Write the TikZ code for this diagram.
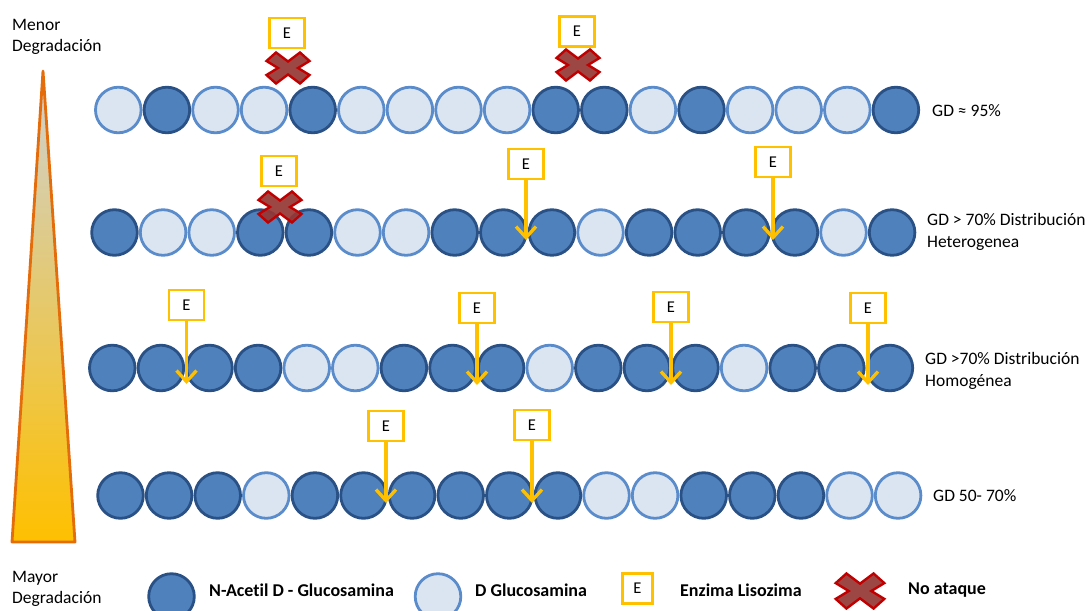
\documentclass[tikz,border=0pt]{standalone}
\usepackage{fontspec}
\setmainfont{Carlito}[Ligatures=NoCommon]
\usetikzlibrary{arrows.meta}
\definecolor{f0}{HTML}{DBE5F1}
\definecolor{d0}{HTML}{5A8BCB}
\definecolor{f1}{HTML}{4F81BD}
\definecolor{d1}{HTML}{2A5185}
\definecolor{gold}{HTML}{FFC000}
\definecolor{orng}{HTML}{E46C0A}
\definecolor{xred}{HTML}{C00000}
\definecolor{xfill}{HTML}{953735}
\definecolor{tgray}{HTML}{CDD1D4}
\definecolor{tmid}{HTML}{E4C56A}
\begin{document}
\begin{tikzpicture}[x=1pt,y=-1pt,
  bead/.style={circle,minimum size=45.6pt,inner sep=0pt,line width=2.8pt},
  ebox/.style={draw=gold,fill=white,line width=2.6pt,minimum width=35pt,minimum height=30pt,inner sep=0pt,font=\fontsize{16.5}{19}\selectfont},
  arr/.style={draw=gold,line width=3.3pt,-{Straight Barb[length=11pt,width=20pt]}},
  lbl/.style={anchor=west,align=left,inner sep=0pt,font=\fontsize{17.5}{21.5}\selectfont},
  leg/.style={anchor=west,inner sep=0pt,font=\bfseries\fontsize{18}{20}\selectfont},
  nox/.pic={\path[draw=xred,fill=xfill,fill opacity=0.92,line width=2.4pt,line join=miter]
    (-12,-15.5) -- (0,-6.5) -- (12,-15.5) -- (21.5,-7) -- (10,0) -- (21.5,7) -- (12,15.5)
    -- (0,6.5) -- (-12,15.5) -- (-21.5,7) -- (-10,0) -- (-21.5,-7) -- cycle;}
]
\useasboundingbox (0,0) rectangle (1091,610);

% degradation triangle
\path[draw=orng,line width=2.8pt,line join=round,top color=tgray,middle color=tmid,bottom color=gold]
  (43,71) -- (75,542) -- (12,542) -- cycle;
\node[lbl] (menor) at (12,37) {Menor\\Degradación};
\node[lbl] (mayor) at (12,589) {Mayor\\Degradación};

% row 1
\foreach \t [count=\i] in {0,1,0,0,1,0,0,0,0,1,1,0,1,0,0,0,1}
  \node[bead,fill=f\t,draw=d\t] (a\i) at ({118.3+(\i-1)*48.6},110) {};
% row 2
\foreach \t [count=\i] in {1,0,0,1,1,0,0,1,1,1,0,1,1,1,1,0,1}
  \node[bead,fill=f\t,draw=d\t] (b\i) at ({114.5+(\i-1)*48.6},232.5) {};
% row 3
\foreach \t [count=\i] in {1,1,1,1,0,0,1,1,1,0,1,1,1,0,1,1,1}
  \node[bead,fill=f\t,draw=d\t] (c\i) at ({112.3+(\i-1)*48.6},368) {};
% row 4
\foreach \t [count=\i] in {1,1,1,0,1,1,1,1,1,1,0,0,1,1,1,0,0}
  \node[bead,fill=f\t,draw=d\t] (d\i) at ({120.5+(\i-1)*48.6},495.5) {};

% enzymes row 1
\node[ebox] (e11) at (287,33) {E};
\node[ebox] (e12) at (577,31.5) {E};
\pic (x11) at (288,68) {nox};
\pic (x12) at (578,65) {nox};

% enzymes row 2
\node[ebox] (e21) at (279,171) {E};
\node[ebox] (e22) at (526,164) {E};
\node[ebox] (e23) at (773,162) {E};
\coordinate (t22) at (526,240);
\coordinate (t23) at (773,240);
\draw[arr] (e22.south) -- (t22);
\draw[arr] (e23.south) -- (t23);
\pic (x21) at (280,207) {nox};

% enzymes row 3
\node[ebox] (e31) at (186.5,305) {E};
\node[ebox] (e32) at (477,308) {E};
\node[ebox] (e33) at (671,307) {E};
\node[ebox] (e34) at (868,308) {E};
\coordinate (t31) at (186.5,384);
\coordinate (t32) at (477,385);
\coordinate (t33) at (671,385);
\coordinate (t34) at (868,385);
\draw[arr] (e31.south) -- (t31);
\draw[arr] (e32.south) -- (t32);
\draw[arr] (e33.south) -- (t33);
\draw[arr] (e34.south) -- (t34);

% enzymes row 4
\node[ebox] (e41) at (386,426) {E};
\node[ebox] (e42) at (532,425) {E};
\coordinate (t41) at (386,503);
\coordinate (t42) at (532,503);
\draw[arr] (e41.south) -- (t41);
\draw[arr] (e42.south) -- (t42);

% row labels
\node[lbl] (g1) at (932,111) {GD ≈ 95\%};
\node[lbl] (g2) at (927,232) {GD > 70\% Distribución\\Heterogenea};
\node[lbl] (g3) at (925,371) {GD >70\% Distribución\\Homogénea};
\node[lbl] (g4) at (933,496) {GD 50- 70\%};

% legend
\node[bead,fill=f1,draw=d1] (l1) at (171.5,596.5) {};
\node[leg] (lt1) at (209,590) {N-Acetil D - Glucosamina};
\node[bead,fill=f0,draw=d0] (l2) at (438,596.5) {};
\node[leg] (lt2) at (475,590) {D Glucosamina};
\node[ebox,minimum width=30pt] (le) at (637.5,588.5) {E};
\node[leg] (lt3) at (680,590) {Enzima Lisozima};
\pic[scale=1.13] (lx) at (860,591) {nox};
\node[leg] (lt4) at (908,590) {No ataque};
\end{tikzpicture}
\end{document}
